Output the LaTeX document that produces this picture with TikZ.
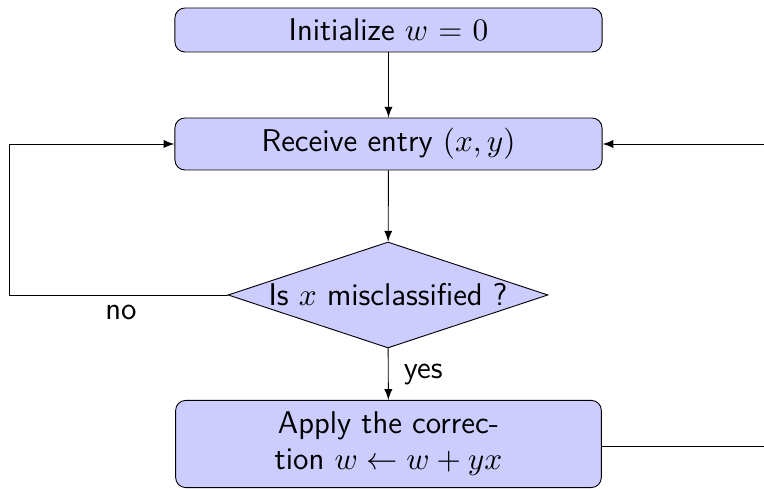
\documentclass[tikz,border=0pt]{standalone}
\usetikzlibrary{shapes.geometric,arrows}
\begin{document}
\begin{tikzpicture}[x=0.35pt,y=-0.35pt,
  font=\sffamily\fontsize{11}{12.6}\selectfont,
  line width=0.32pt,
  block/.style={draw, fill=blue!20, rounded corners=3.5pt, align=center, inner sep=0pt},
  decision/.style={draw, fill=blue!20, diamond, shape aspect=3, inner sep=-2.5pt,
    minimum width=112pt, minimum height=37.1pt},
  flow/.style={draw, -latex}]
\useasboundingbox (0,0) rectangle (764,489);
\node[block, minimum width=149.5pt, minimum height=15.4pt] (init) at (388.5,30) {Initialize $w$ = $0$};
\node[block, minimum width=149.5pt, minimum height=18.2pt] (recv) at (388.5,144) {Receive entry $(x,y)$};
\node[decision] (test) at (388,295) {Is $x$ misclassified ?};
\node[block, minimum width=149pt, minimum height=30.5pt] (corr) at (388.5,444) {Apply the correc-\\tion $w \leftarrow w + yx$};
\coordinate (lb) at (9.5,295);
\coordinate (lt) at (9.5,144);
\coordinate (rb) at (766,446);
\coordinate (rt) at (766,144);
\draw[flow] (init) -- (recv);
\draw[flow] (recv) -- (test);
\draw[flow] (test) -- node[right, xshift=2pt] {yes} (corr);
\draw[flow] (test.west) -- (lb) -- (lt) -- (recv.west);
\node (no) at (121,312) {no};
\draw[flow] (corr.east |- rb) -- (rb) -- (rt) -- (recv.east);
\end{tikzpicture}
\end{document}
